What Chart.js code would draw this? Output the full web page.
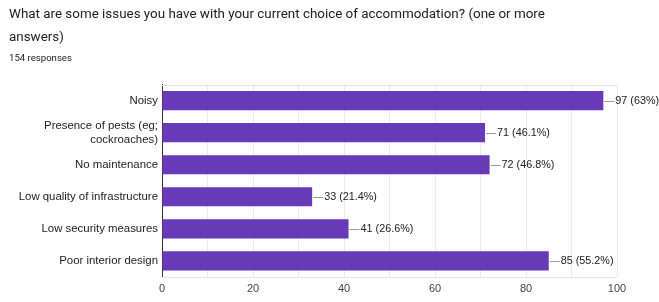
<!DOCTYPE html>
<html lang="en">
<head>
    <meta charset="UTF-8">
    <title>Accommodation issues</title>
    <script src="https://cdn.jsdelivr.net/npm/chart.js"></script>
    <style>
        html, body { margin: 0; padding: 0; background: white; }
        .graph-container { width: 659px; height: 302px; }
    </style>
</head>
<body>
    <div class="graph-container">
        <canvas id="myChartCanvas"></canvas>
    </div>
<script>
    // dados
    const categorias = [
        'Noisy',
        ['Presence of pests (eg;', 'cockroaches)'],
        'No maintenance',
        'Low quality of infrastructure',
        'Low security measures',
        'Poor interior design'
    ];
    const respostas = [97, 71, 72, 33, 41, 85];
    const percentuais = ['63%', '46.1%', '46.8%', '21.4%', '26.6%', '55.2%'];
    const ticksX = [0, 20, 40, 60, 80, 100];
    const totalRespostas = 154;

    // plugin para as linhas de ligação e os rótulos de valor
    const rotulosPlugin = {
        id: 'rotulos',
        afterDatasetsDraw(chart) {
            const ctx = chart.ctx;
            const xs = chart.scales.x;
            const ys = chart.scales.y;
            ctx.save();
            ctx.font = '10.8px "Liberation Sans", Arial, sans-serif';
            ctx.textBaseline = 'middle';
            respostas.forEach((v, i) => {
                const x = xs.getPixelForValue(v);
                const y = ys.getPixelForValue(i);
                ctx.strokeStyle = '#999999';
                ctx.lineWidth = 1;
                ctx.beginPath();
                ctx.moveTo(x + 1, Math.round(y) + 0.5);
                ctx.lineTo(x + 11, Math.round(y) + 0.5);
                ctx.stroke();
                ctx.fillStyle = '#222222';
                ctx.fillText(`${v} (${percentuais[i]})`, x + 12, y);
            });
            ctx.restore();
        }
    };

    // moldura da area do grafico
    const molduraPlugin = {
        id: 'moldura',
        beforeDatasetsDraw(chart) {
            const a = chart.chartArea;
            const ctx = chart.ctx;
            ctx.save();
            ctx.strokeStyle = '#e6e6e6';
            ctx.lineWidth = 1;
            ctx.beginPath();
            ctx.moveTo(a.left, Math.round(a.top) + 0.5);
            ctx.lineTo(a.right, Math.round(a.top) + 0.5);
            ctx.moveTo(a.left, Math.round(a.bottom) + 0.5);
            ctx.lineTo(a.right, Math.round(a.bottom) + 0.5);
            ctx.stroke();
            ctx.restore();
        }
    };

    const ctx = document.getElementById('myChartCanvas').getContext('2d');
    const chartInstance = new Chart(ctx, {
        type: 'bar',
        data: {
            labels: categorias,
            datasets: [{
                label: 'Respostas',
                data: respostas,
                backgroundColor: '#673ab7',
                borderWidth: 0,
                barPercentage: 0.6,
                categoryPercentage: 1
            }]
        },
        options: {
            indexAxis: 'y',
            responsive: true,
            maintainAspectRatio: false,
            animation: false,
            layout: {
                padding: { left: 9, right: 42, top: 0, bottom: 0 }
            },
            plugins: {
                legend: { display: false },
                tooltip: { enabled: false },
                title: {
                    display: true,
                    align: 'start',
                    text: ['What are some issues you have with your current choice of accommodation? (one or more', 'answers)'],
                    color: '#202124',
                    font: { family: 'Roboto', size: 13.4, weight: 'normal', lineHeight: 1.65 },
                    padding: { top: 4, bottom: 4 }
                },
                subtitle: {
                    display: true,
                    align: 'start',
                    text: totalRespostas + ' responses',
                    color: '#202124',
                    font: { family: 'Roboto', size: 9.6, lineHeight: 1.3 },
                    padding: { top: 0, bottom: 20 }
                }
            },
            scales: {
                x: {
                    min: 0,
                    max: 100,
                    afterBuildTicks(scale) {
                        const t = [];
                        for (let v = 0; v <= 100; v += 10) t.push({ value: v });
                        scale.ticks = t;
                    },
                    ticks: {
                        autoSkip: false,
                        maxRotation: 0,
                        color: '#444444',
                        font: { family: '"Liberation Sans", Arial', size: 11 },
                        padding: 6,
                        callback: (v) => ticksX.includes(v) ? v : ''
                    },
                    grid: {
                        color: (c) => c.tick && c.tick.value === 0 ? '#333333' : '#ebebeb',
                        drawTicks: false
                    },
                    border: { display: false }
                },
                y: {
                    afterFit(scale) { scale.width = 153; },
                    ticks: {
                        color: '#222222',
                        font: { family: '"Liberation Sans", Arial', size: 11.4 },
                        padding: 4
                    },
                    grid: { display: false, drawTicks: false },
                    border: { display: true, color: '#333333' }
                }
            }
        },
        plugins: [molduraPlugin, rotulosPlugin]
    });
</script>
</body>
</html>
